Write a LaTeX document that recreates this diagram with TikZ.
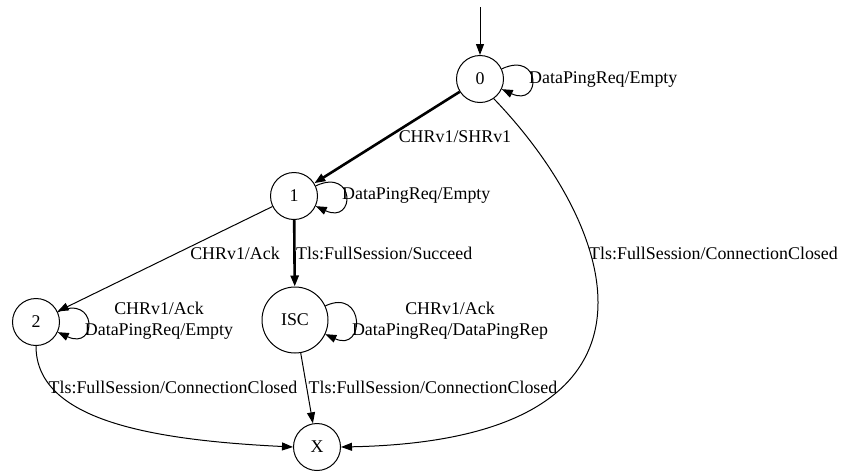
\documentclass[tikz,border=0pt]{standalone}
\usepackage{fontspec}
\setmainfont{Liberation Serif}
\usetikzlibrary{arrows.meta}

\begin{document}
\begin{tikzpicture}[
  x=1pt, y=-1pt,
  font=\fontsize{17.9}{21}\selectfont,
  state/.style={draw, circle, line width=1pt, minimum size=47pt, inner sep=0pt},
  bigstate/.style={state, minimum size=66pt},
  arr/.style={-{Triangle[length=11pt, width=8pt]}, line width=1pt},
  mainarr/.style={arr, line width=2.6pt},
  selfloop/.style={arr, loop, out=25, in=-25, looseness=1, min distance=44pt},
  lbl/.style={inner sep=0pt, align=center},
]
\useasboundingbox (0,0) rectangle (841,472);

% ── States ────────────────────────────────────────────────────────────────────
\node[state]    (s0)  at (480,79)  {0};
\node[state]    (s1)  at (294,196) {1};
\node[state]    (s2)  at (36,322)  {2};
\node[bigstate] (isc) at (295,320) {ISC};
\node[state]    (sx)  at (317,447) {X};
\coordinate (init) at (480,7);

% ── Transitions ───────────────────────────────────────────────────────────────
\draw[arr] (init) -- (s0);
\draw[mainarr] (s0) -- (s1);
\draw[mainarr] (s1) -- (isc);
\draw[arr] (s1) -- (s2);
\draw[arr] (isc) -- (sx);
\draw[arr] (s2.south) .. controls (36,420) and (150,440) .. (sx.west);
\draw[arr] (s0.-55) .. controls (620,230) and (690,440) .. (sx.east);

% ── Self loops ────────────────────────────────────────────────────────────────
\path (s0)  edge[selfloop] (s0);
\path (s1)  edge[selfloop] (s1);
\path (s2)  edge[selfloop] (s2);
\path (isc) edge[selfloop] (isc);

% ── Labels ────────────────────────────────────────────────────────────────────
\node[lbl, anchor=west] (l0loop)  at (529,80)  {DataPingReq/Empty};
\node[lbl]              (lshr)    at (455,137) {CHRv1/SHRv1};
\node[lbl, anchor=west] (l1loop)  at (342,196) {DataPingReq/Empty};
\node[lbl]              (lack)    at (235,253) {CHRv1/Ack};
\node[lbl, anchor=west] (lsucc)   at (296,253) {Tls:FullSession/Succeed};
\node[lbl, anchor=west] (lclose0) at (589,253) {Tls:FullSession/ConnectionClosed};
\node[lbl]              (l2loop)  at (159,321) {CHRv1/Ack\\DataPingReq/Empty};
\node[lbl]              (liscloop) at (450,321) {CHRv1/Ack\\DataPingReq/DataPingRep};
\node[lbl]              (lclose2) at (173,387) {Tls:FullSession/ConnectionClosed};
\node[lbl]              (lclosei) at (433,387) {Tls:FullSession/ConnectionClosed};

\end{tikzpicture}
\end{document}
